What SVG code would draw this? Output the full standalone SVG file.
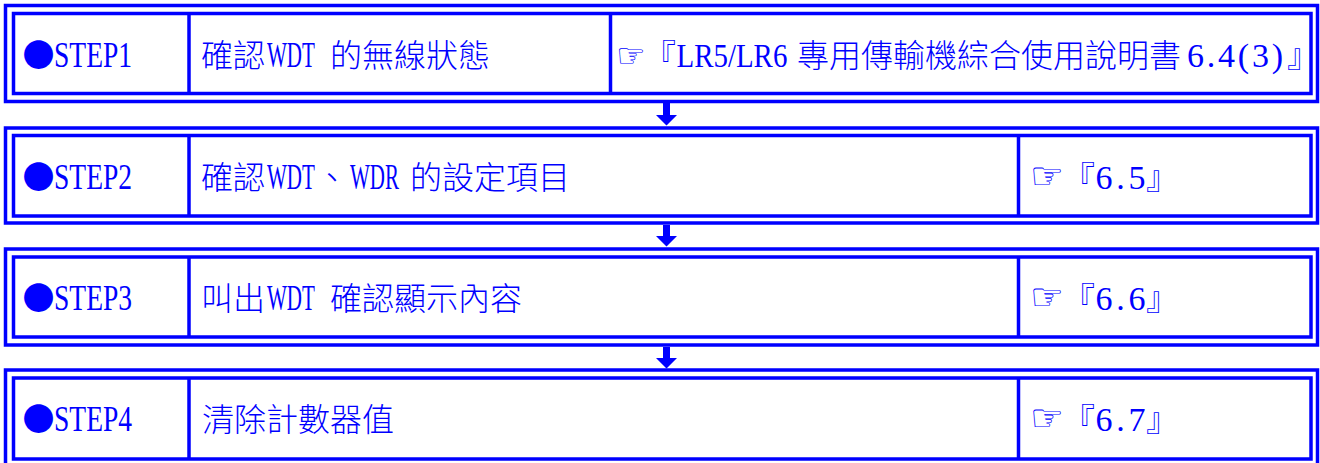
<svg xmlns="http://www.w3.org/2000/svg" width="1320" height="463" viewBox="0 0 1320 463">
<style>
.frame{fill:none;stroke:#0000FF;stroke-width:3.5}
.div{stroke:#0000FF;stroke-width:3.5}
.arrow{fill:#0000FF}
.n{fill:#0000FF;font-size:36px;font-family:"Liberation Serif","Noto Sans CJK TC",serif}
.m{fill:#0000FF;font-size:33px;font-family:"Liberation Serif","Noto Sans CJK TC",serif}
.d{fill:#0000FF;font-size:34px;font-family:"Liberation Serif","Noto Sans CJK TC",serif}
.c{fill:#0000FF;font-size:32px;font-weight:300;font-family:"Noto Sans CJK TC","Liberation Sans",sans-serif}
.o{fill:#0000FF;font-size:32px;font-family:"Noto Sans CJK TC","Liberation Sans",sans-serif}
.s{fill:#0000FF;font-size:33px;font-family:"DejaVu Sans","Noto Sans CJK TC",sans-serif}
.s2{fill:#0000FF;font-size:38px;font-family:"DejaVu Sans","Noto Sans CJK TC",sans-serif}
</style>
<rect width="1320" height="463" fill="#FFFFFF"/>
<g id="step1">
<rect class="frame" x="5.5" y="5.5" width="1312" height="96"/>
<rect class="frame" x="13.5" y="13.5" width="1297.5" height="80"/>
<line class="div" x1="189" y1="13.5" x2="189" y2="93.5"/>
<line class="div" x1="610.5" y1="13.5" x2="610.5" y2="93.5"/>
<text class="o" x="22.5" y="66.5">●</text>
<text class="n" transform="translate(54,66.5) scale(0.765,1)">STEP1</text>
<text class="c" x="201" y="66.5">確認</text>
<text class="n" transform="translate(267,66.5) scale(0.585,1)">WDT</text>
<text class="c" x="330" y="66.5">的無線狀態</text>
<text class="s" x="616" y="66.5">☞</text>
<text class="c" x="644" y="66.5">『</text>
<text class="m" transform="translate(676.5,66.5) scale(0.877,1)">LR5/LR6</text>
<text class="c" x="797" y="66.5">專用傳輸機綜合使用說明書</text>
<text class="d" x="1187" y="66.5" textLength="96" lengthAdjust="spacing">6.4(3)</text>
<text class="c" x="1287" y="66.5">』</text>
</g>
<g id="step2">
<rect class="frame" x="5.5" y="128" width="1312" height="95"/>
<rect class="frame" x="13.5" y="135.5" width="1297.5" height="80.5"/>
<line class="div" x1="189" y1="135.5" x2="189" y2="216"/>
<line class="div" x1="1018.5" y1="135.5" x2="1018.5" y2="216"/>
<text class="o" x="22.5" y="188.5">●</text>
<text class="n" transform="translate(54,188.5) scale(0.765,1)">STEP2</text>
<text class="c" x="201" y="188.5">確認</text>
<text class="n" transform="translate(267,188.5) scale(0.585,1)">WDT</text>
<text class="c" x="316" y="188.5">、</text>
<text class="n" transform="translate(350,188.5) scale(0.583,1)">WDR</text>
<text class="c" x="410" y="188.5">的設定項目</text>
<text class="s2" x="1030" y="188.5">☞</text>
<text class="c" x="1063" y="188.5">『</text>
<text class="d" x="1095.5" y="188.5" textLength="50" lengthAdjust="spacing">6.5</text>
<text class="c" x="1146" y="188.5">』</text>
</g>
<g id="step3">
<rect class="frame" x="5.5" y="249" width="1312" height="96"/>
<rect class="frame" x="13.5" y="257" width="1297.5" height="80"/>
<line class="div" x1="189" y1="257" x2="189" y2="337"/>
<line class="div" x1="1018.5" y1="257" x2="1018.5" y2="337"/>
<text class="o" x="22.5" y="310">●</text>
<text class="n" transform="translate(54,310) scale(0.765,1)">STEP3</text>
<text class="c" x="201" y="310">叫出</text>
<text class="n" transform="translate(267,310) scale(0.585,1)">WDT</text>
<text class="c" x="330" y="310">確認顯示內容</text>
<text class="s2" x="1030" y="310">☞</text>
<text class="c" x="1063" y="310">『</text>
<text class="d" x="1095.5" y="310" textLength="50" lengthAdjust="spacing">6.6</text>
<text class="c" x="1146" y="310">』</text>
</g>
<g id="step4">
<rect class="frame" x="5.5" y="370" width="1312" height="97"/>
<rect class="frame" x="13.5" y="378" width="1297.5" height="81"/>
<line class="div" x1="189" y1="378" x2="189" y2="459"/>
<line class="div" x1="1018.5" y1="378" x2="1018.5" y2="459"/>
<text class="o" x="22.5" y="431">●</text>
<text class="n" transform="translate(54,431) scale(0.765,1)">STEP4</text>
<text class="c" x="202" y="431">清除計數器值</text>
<text class="s2" x="1030" y="431">☞</text>
<text class="c" x="1063" y="431">『</text>
<text class="d" x="1095.5" y="431" textLength="50" lengthAdjust="spacing">6.7</text>
<text class="c" x="1146" y="431">』</text>
</g>
<g id="connectors">
<polygon class="arrow" points="663,103 670,103 670,115 677,115 666.5,125.5 656,115 663,115"/>
<polygon class="arrow" points="663,225 670,225 670,236 677,236 666.5,246.5 656,236 663,236"/>
<polygon class="arrow" points="663,347 670,347 670,358 677,358 666.5,368.5 656,358 663,358"/>
</g>
</svg>
